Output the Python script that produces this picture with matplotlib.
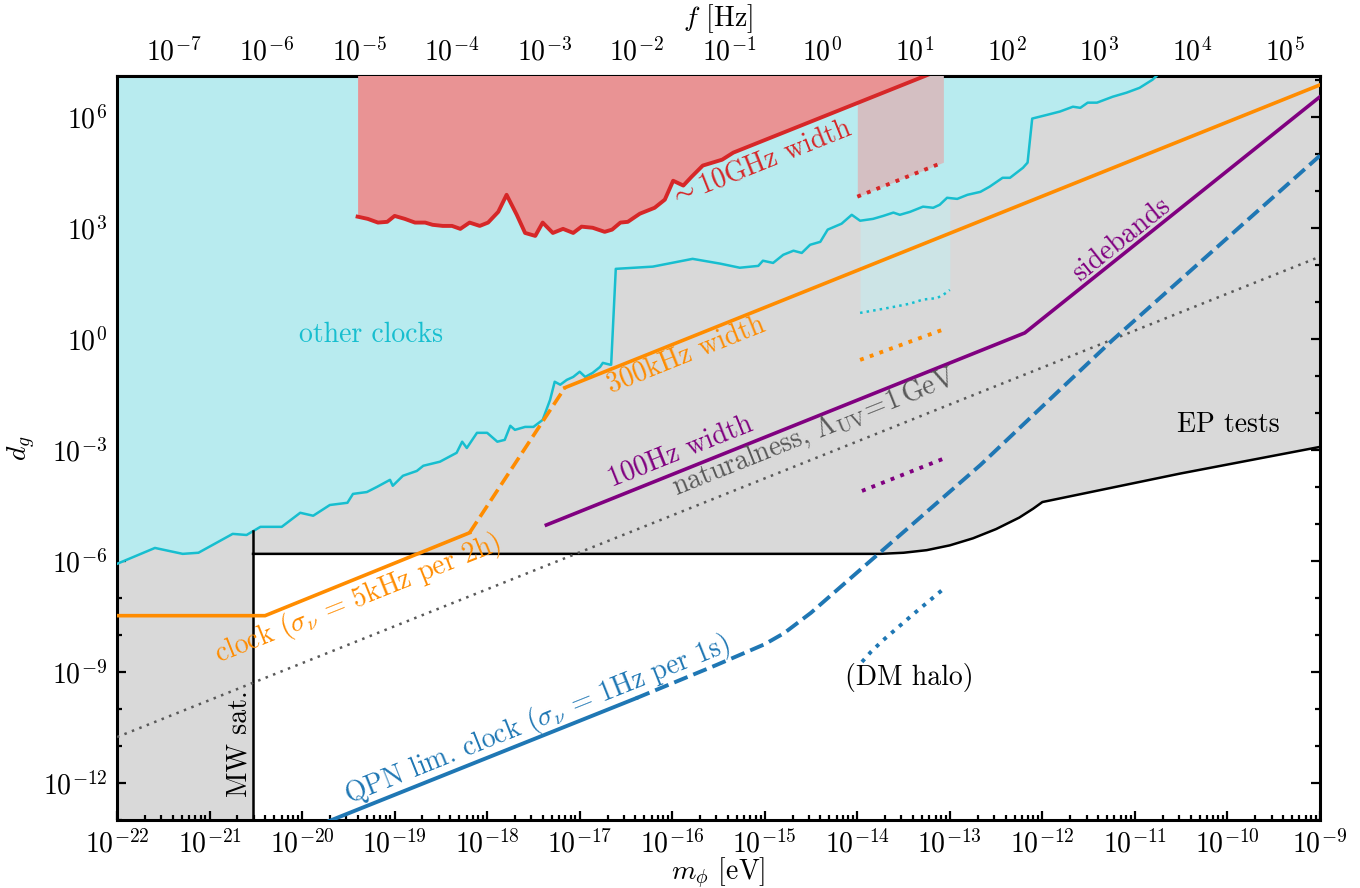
import numpy as np
import matplotlib
matplotlib.use('Agg')
import matplotlib.pyplot as plt
from matplotlib.ticker import FixedLocator, NullFormatter

plt.rcParams['font.family'] = 'serif'
plt.rcParams['font.serif'] = ['cmr10']
plt.rcParams['mathtext.fontset'] = 'cm'
plt.rcParams['axes.formatter.use_mathtext'] = True
plt.rcParams['font.size'] = 10
plt.rcParams['axes.linewidth'] = 1.1

HZ_PER_EV = 2.418e14

# all values are log10: m_phi [eV] and d_g
mw_m = -20.53

ep_m = [-20.53, -13.75, -13.5, -13.25, -13.0, -12.75, -12.5, -12.25, -12.1, -12.0, -10.51, -9.0]
ep_d = [-5.81, -5.81, -5.78, -5.71, -5.58, -5.39, -5.14, -4.83, -4.59, -4.41, -3.64, -2.92]

cyan_m = [-22.00, -21.59, -21.29, -21.12, -20.75, -20.60, -20.45, -20.22, -20.02, -19.88,
          -19.70, -19.51, -19.45, -19.30, -19.19, -19.05, -19.02, -18.91, -18.76, -18.69,
          -18.51, -18.33, -18.27, -18.22, -18.11, -18.00, -17.89, -17.81, -17.75, -17.70,
          -17.59, -17.50, -17.40, -17.32, -17.27, -17.21, -17.14, -17.07, -17.00, -16.94,
          -16.86, -16.78, -16.75, -16.67, -16.66, -16.61, -16.21, -15.78, -15.48, -15.27,
          -15.07, -15.02, -14.91, -14.80, -14.69, -14.60, -14.51, -14.40, -14.32, -14.17,
          -14.06, -13.97, -13.83, -13.72, -13.61, -13.54, -13.43, -13.29, -13.18, -13.11,
          -13.03, -12.92, -12.81, -12.67, -12.57, -12.43, -12.35, -12.21, -12.16, -12.11,
          -11.95, -11.81, -11.67, -11.59, -11.51, -11.41, -11.24, -11.09, -10.95, -10.81,
          -10.68]
cyan_d = [-6.08, -5.65, -5.81, -5.78, -5.27, -5.30, -5.08, -5.08, -4.70, -4.78,
          -4.49, -4.43, -4.19, -4.14, -4.00, -3.81, -3.97, -3.70, -3.57, -3.43,
          -3.32, -3.08, -2.78, -2.95, -2.54, -2.54, -2.78, -2.73, -2.35, -2.46,
          -2.38, -2.38, -2.19, -1.65, -1.16, -1.24, -1.11, -1.03, -0.89, -1.03,
          -0.92, -0.76, -0.65, -0.70, -0.70, 1.89, 1.95, 2.16, 2.03, 1.92,
          1.97, 2.11, 2.05, 2.27, 2.38, 2.32, 2.54, 2.62, 2.95, 3.11,
          3.35, 3.19, 3.24, 3.32, 3.41, 3.35, 3.43, 3.57, 3.54, 3.62,
          3.81, 3.78, 3.89, 3.97, 4.11, 4.35, 4.35, 4.62, 4.76, 5.95,
          6.05, 6.14, 6.27, 6.24, 6.38, 6.38, 6.54, 6.65, 6.78, 7.00,
          7.30]

red_m = [-19.40, -19.29, -19.18, -19.08, -19.00, -18.89, -18.78, -18.67, -18.59, -18.48,
         -18.38, -18.29, -18.19, -18.08, -17.99, -17.88, -17.79, -17.68, -17.59, -17.48,
         -17.40, -17.29, -17.18, -17.07, -16.98, -16.86, -16.73, -16.65, -16.56, -16.48,
         -16.35, -16.19, -16.08, -15.99, -15.88, -15.79, -15.67, -15.46, -15.34, -13.0]
red_d = [3.30, 3.24, 3.14, 3.16, 3.32, 3.24, 3.14, 3.14, 3.08, 3.05,
         3.05, 2.97, 3.14, 3.05, 3.14, 3.43, 3.89, 3.35, 2.86, 2.78,
         3.14, 2.86, 2.97, 2.86, 3.03, 3.00, 2.89, 2.95, 3.14, 3.16,
         3.38, 3.54, 3.76, 4.27, 4.14, 4.38, 4.68, 4.84, 5.03, 7.37]

orange_m1 = [-22.0, -20.40, -18.19]
orange_d1 = [-7.48, -7.48, -5.24]
orange_dash_m = [-18.19, -17.16]
orange_dash_d = [-5.24, -1.32]
orange_m2 = [-17.16, -9.0]
orange_d2 = [-1.32, 6.86]

purple_m = [-17.36, -12.19, -9.0]
purple_d = [-5.03, 0.16, 6.54]

qpn_m = [-19.9, -16.39]
qpn_d = [-13.22, -9.71]
qpn_dash_m = [-16.39, -15.52, -15.0, -14.79, -14.5, -14.34, -12.67, -11.24, -9.0]
qpn_dash_d = [-9.71, -8.81, -8.25, -7.95, -7.40, -7.05, -3.41, -0.03, 4.95]

nat_m = [-22.0, -9.0]
nat_d = [-10.76, 2.22]

# DM halo projections
halo_red_m = [-14.0, -13.07]
halo_red_d = [3.84, 4.77]
halo_cyan_m = [-13.97, -13.72, -13.57, -13.43, -13.29, -13.14, -13.07, -13.0]
halo_cyan_d = [0.70, 0.81, 0.88, 0.95, 1.06, 1.10, 1.19, 1.32]
halo_orange_m = [-13.97, -13.05]
halo_orange_d = [-0.57, 0.27]
halo_purple_m = [-13.95, -13.05]
halo_purple_d = [-4.11, -3.22]
halo_blue_m = [-13.95, -13.85, -13.72, -13.4, -13.07]
halo_blue_d = [-8.73, -8.45, -8.14, -7.45, -6.76]

# tick decades
m_decades = np.arange(-22, -8)
f_decades = np.arange(-7, 6)
d_major = np.arange(-12, 7, 3)
d_minor = np.arange(-13, 8)

C_CYAN = '#17becf'
C_RED = '#d62728'
C_ORANGE = 'darkorange'
C_PURPLE = 'purple'
C_BLUE = '#1f77b4'
C_NAT = '0.35'


def p(a):
    return 10 ** np.asarray(a, dtype=float)


def angle(ax, m0, d0, m1, d1):
    a = ax.transData.transform((10 ** m0, 10 ** d0))
    b = ax.transData.transform((10 ** m1, 10 ** d1))
    return np.degrees(np.arctan2(b[1] - a[1], b[0] - a[0]))


def minor_ticks(decades, lo, hi):
    t = np.outer(p(decades), np.arange(1, 10)).ravel()
    t = np.r_[t, p(decades[0] - 1) * np.arange(1, 10)]
    return t[(t >= lo) & (t <= hi)]


fig = plt.figure(figsize=(6.8, 4.44), dpi=200)
ax = fig.add_axes([117 / 1360, 68 / 888, 1203 / 1360, 744 / 888])
ax.set_xscale('log')
ax.set_yscale('log')
ax.set_xlim(1e-22, 1e-9)
ax.set_ylim(1e-13, 10 ** 7.1)

# excluded regions
gm = np.r_[-22.0, mw_m, ep_m]
gd = np.r_[-14.0, -14.0, ep_d]
ax.fill_between(p(gm), p(gd), 1e8, color='#d9d9d9', lw=0, zorder=1)
ax.fill_between(p(cyan_m), p(cyan_d), 1e8, color='#b8ebef', lw=0, zorder=2)
ax.fill_between(p(red_m), p(red_d), 1e8, color='#e99394', lw=0, zorder=3)

xr = np.linspace(halo_red_m[0], halo_red_m[-1], 40)
ax.fill_between(p(xr), p(np.interp(xr, halo_red_m, halo_red_d)),
                p(np.interp(xr, red_m, red_d)), color='#d4bfc2', lw=0, zorder=3)
xc = np.linspace(halo_cyan_m[0], halo_cyan_m[-1], 40)
ax.fill_between(p(xc), p(np.interp(xc, halo_cyan_m, halo_cyan_d)),
                p(np.interp(xc, cyan_m, cyan_d)), color='#cce4e6', lw=0, zorder=3)

# boundaries
ax.plot(p(cyan_m), p(cyan_d), color=C_CYAN, lw=0.9, zorder=4)
ax.plot(p(red_m), p(red_d), color=C_RED, lw=1.4, zorder=4)
ax.plot(p(ep_m), p(ep_d), color='k', lw=0.9, zorder=4)
mw_top = np.interp(mw_m, cyan_m, cyan_d)
ax.plot(p([mw_m, mw_m]), p([-14.0, mw_top]), color='k', lw=0.9, zorder=4)

ax.plot(p(nat_m), p(nat_d), color=C_NAT, lw=0.9, ls=(0, (1, 2.2)), zorder=5)

ax.plot(p(orange_m1), p(orange_d1), color=C_ORANGE, lw=1.3, zorder=5)
ax.plot(p(orange_dash_m), p(orange_dash_d), color=C_ORANGE, lw=1.3, ls='--', zorder=5)
ax.plot(p(orange_m2), p(orange_d2), color=C_ORANGE, lw=1.3, zorder=5)
ax.plot(p(purple_m), p(purple_d), color=C_PURPLE, lw=1.3, zorder=5)
ax.plot(p(qpn_m), p(qpn_d), color=C_BLUE, lw=1.4, zorder=5)
ax.plot(p(qpn_dash_m), p(qpn_dash_d), color=C_BLUE, lw=1.4, ls='--', zorder=5)

for hm, hd, c in [(halo_red_m, halo_red_d, C_RED), (halo_cyan_m, halo_cyan_d, C_CYAN),
                  (halo_orange_m, halo_orange_d, C_ORANGE),
                  (halo_purple_m, halo_purple_d, C_PURPLE),
                  (halo_blue_m, halo_blue_d, C_BLUE)]:
    lw = 0.9 if c == C_CYAN else 1.4
    ax.plot(p(hm), p(hd), color=c, lw=lw, ls=':', zorder=5)

# labels
r1 = angle(ax, -20, -5, -10, 5)
r2 = angle(ax, -12, 0, -10, 4)
txt = [
    (-19.25, 0.12, 'other clocks', C_CYAN, 0),
    (-15.05, 4.76, r'$\sim$10GHz width', C_RED, r1),
    (-15.85, -0.43, '300kHz width', C_ORANGE, r1),
    (-19.40, -7.03, r'clock ($\sigma_\nu \,=\, 5$kHz per 2h)', C_ORANGE, r1),
    (-15.91, -3.05, '100Hz width', C_PURPLE, r1),
    (-14.46, -2.54, r'naturalness, $\Lambda_{\rm UV}\!=\!1\,$GeV', C_NAT, r1),
    (-11.14, 2.68, 'sidebands', C_PURPLE, r2),
    (-9.99, -2.32, 'EP tests', 'k', 0),
    (-20.68, -10.95, 'MW sat.', 'k', 90),
    (-17.46, -10.30, r'QPN lim. clock ($\sigma_\nu \,=\, 1$Hz per 1s)', C_BLUE, r1),
    (-13.44, -9.14, '(DM halo)', 'k', 0),
]
for m, d, s, c, rot in txt:
    ax.text(10 ** m, 10 ** d, s, color=c, rotation=rot, ha='center', va='center',
            rotation_mode='anchor', zorder=6)

# axes and ticks
ax.xaxis.set_major_locator(FixedLocator(p(m_decades)))
ax.xaxis.set_minor_locator(FixedLocator(minor_ticks(m_decades, 1e-22, 1e-9)))
ax.xaxis.set_minor_formatter(NullFormatter())
ax.yaxis.set_major_locator(FixedLocator(p(d_major)))
ax.yaxis.set_minor_locator(FixedLocator(p(d_minor)))
ax.yaxis.set_minor_formatter(NullFormatter())
ax.tick_params(which='both', direction='in', top=False, right=True, width=0.8)
ax.tick_params(which='major', length=3.2)
ax.tick_params(which='minor', length=1.9)

sec = ax.secondary_xaxis('top', functions=(lambda m: m * HZ_PER_EV, lambda f: f / HZ_PER_EV))
sec.xaxis.set_major_locator(FixedLocator(p(f_decades)))
sec.xaxis.set_minor_locator(FixedLocator(minor_ticks(f_decades, 1e-22 * HZ_PER_EV,
                                                     1e-9 * HZ_PER_EV)))
sec.xaxis.set_minor_formatter(NullFormatter())
sec.tick_params(which='both', direction='in', width=0.8)
sec.tick_params(which='major', length=3.2)
sec.tick_params(which='minor', length=1.9)
sec.set_xlabel('$f$ [Hz]')

ax.set_xlabel(r'$m_\phi$ [eV]', labelpad=-1.0)
ax.set_ylabel(r'$d_g$', labelpad=1.5)

fig.savefig('out.png', dpi=200)
